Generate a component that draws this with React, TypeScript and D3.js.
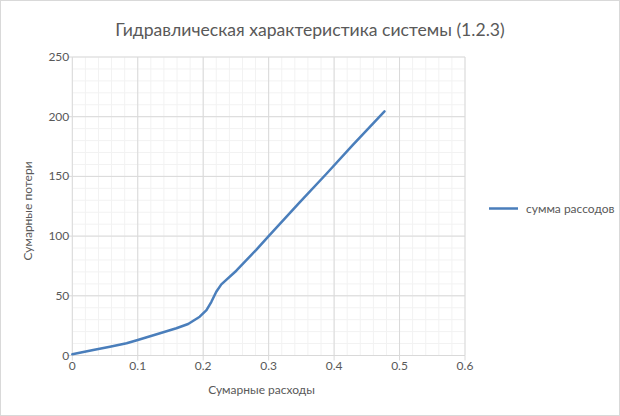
import React from "react";
import * as d3 from "d3";

const title = "Гидравлическая характеристика системы (1.2.3)";
const xTitle = "Сумарные расходы";
const yTitle = "Сумарные потери";
const seriesName = "сумма рассодов";

const flowValues = [0, 0.032, 0.0575, 0.083, 0.1, 0.134, 0.159, 0.177, 0.1947, 0.205, 0.2125, 0.22, 0.2277, 0.2506, 0.281, 0.3, 0.347, 0.388, 0.428, 0.477];
const lossValues = [1, 4.6, 7.4, 10.2, 13, 18.6, 22.8, 26.4, 32.5, 38, 45, 53.4, 59.6, 71, 88.5, 100, 128, 152, 176, 204.5];

const xTicks = [0, 0.1, 0.2, 0.3, 0.4, 0.5, 0.6];
const yTicks = [0, 50, 100, 150, 200, 250];

const W = 620, H = 416;
const left = 72.3, right = 465, top = 57, bottom = 355.5;
const FONT = "Lato, 'Liberation Sans', sans-serif";
const TEXT = "#595959";

export default function App() {
  const x = d3.scaleLinear().domain([0, 0.6]).range([left, right]);
  const y = d3.scaleLinear().domain([0, 250]).range([bottom, top]);
  const xMinor = d3.range(0, 0.6001, 0.02);
  const yMinor = d3.range(0, 250.01, 10);
  const line = d3.line<number>().x((_, i) => x(flowValues[i])).y((d) => y(d));
  return (
    <svg width={W} height={H} style={{ position: "absolute", left: 0, top: 0, background: "#fff" }}>
      <rect x={0.5} y={0.5} width={W - 1} height={H - 1} fill="#fff" stroke="#d9d9d9" />
      <text x={310} y={35.5} textAnchor="middle" fontFamily={FONT} fontSize={17.6} fill={TEXT}>{title}</text>
      {xMinor.map((v, i) => (
        <line key={"xm" + i} x1={x(v)} x2={x(v)} y1={top} y2={bottom} stroke="#f2f2f2" />
      ))}
      {yMinor.map((v, i) => (
        <line key={"ym" + i} x1={left} x2={right} y1={y(v)} y2={y(v)} stroke="#f2f2f2" />
      ))}
      {xTicks.map((v) => (
        <line key={"xM" + v} x1={x(v)} x2={x(v)} y1={top} y2={bottom} stroke="#d9d9d9" />
      ))}
      {yTicks.map((v) => (
        <line key={"yM" + v} x1={left - 5} x2={right} y1={y(v)} y2={y(v)} stroke="#d9d9d9" />
      ))}
      {xTicks.map((v) => (
        <line key={"xt" + v} x1={x(v)} x2={x(v)} y1={bottom} y2={bottom + 5} stroke="#d9d9d9" />
      ))}
      {xTicks.map((v) => (
        <text key={"xl" + v} x={x(v)} y={bottom + 14} textAnchor="middle" fontFamily={FONT} fontSize={12} fill={TEXT}>{String(v)}</text>
      ))}
      {yTicks.map((v) => (
        <text key={"yl" + v} x={left - 3} y={y(v) + 4} textAnchor="end" fontFamily={FONT} fontSize={12} fill={TEXT}>{String(v)}</text>
      ))}
      <text x={261.5} y={394} textAnchor="middle" fontFamily={FONT} fontSize={12} fill={TEXT}>{xTitle}</text>
      <text transform={`translate(32,211) rotate(-90)`} textAnchor="middle" fontFamily={FONT} fontSize={12} fill={TEXT}>{yTitle}</text>
      <path d={line(lossValues) || ""} fill="none" stroke="#4a7ebb" strokeWidth={2.5} strokeLinejoin="round" strokeLinecap="round" />
      <line x1={489} x2={518} y1={208.5} y2={208.5} stroke="#4a7ebb" strokeWidth={2.5} />
      <text x={526} y={212.5} fontFamily={FONT} fontSize={12} fill={TEXT}>{seriesName}</text>
    </svg>
  );
}
